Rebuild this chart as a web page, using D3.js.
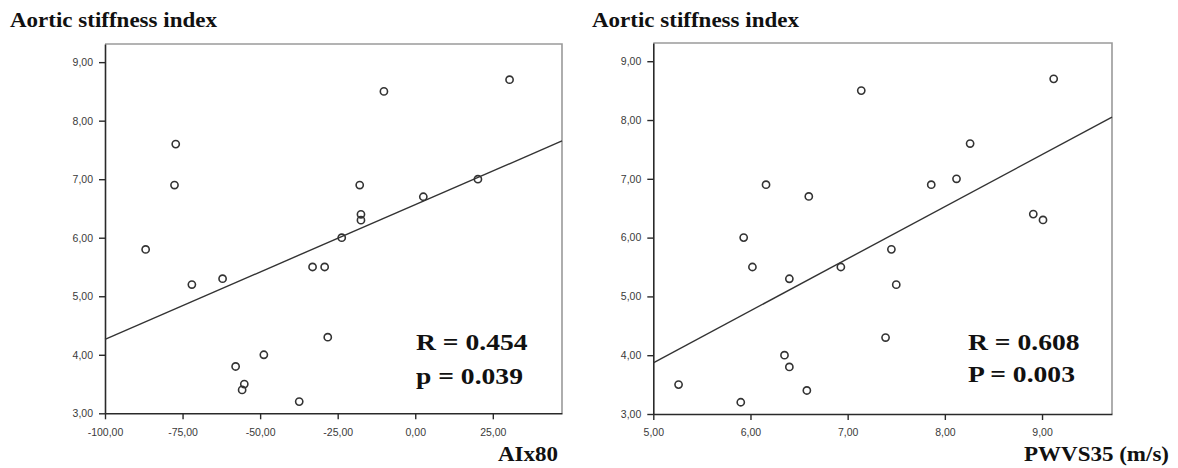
<!DOCTYPE html>
<html>
<head>
<meta charset="utf-8">
<script src="https://cdn.jsdelivr.net/npm/d3@7"></script>
<style>
  html, body { margin: 0; padding: 0; background: #ffffff; }
  svg { display: block; }
  .tick text { font-family: Arial, "Liberation Sans", sans-serif; font-size: 10.5px; fill: #3a3a3a; }
  .serif { font-family: "Liberation Serif", "Times New Roman", serif; font-weight: bold; fill: #111; }
</style>
</head>
<body>
<svg id="chart" width="1178" height="468"></svg>
<script>
// Aortic stiffness index against AIx80 (left) and PWVS35 (right)
const stiffnessA = [8.7, 8.5, 7.6, 6.9, 6.9, 6.7, 7.0, 6.4, 6.3, 6.0, 5.8, 5.2, 5.3, 5.5, 5.5, 4.3, 4.0, 3.8, 3.5, 3.4, 3.2];
const aix80      = [30.4, -10.1, -77.2, -77.6, -17.9, 2.6, 20.2, -17.5, -17.5, -23.7, -86.9, -72.0, -62.1, -33.1, -29.2, -28.2, -48.8, -57.9, -55.1, -55.8, -37.4];

const stiffnessB = [8.7, 8.5, 7.6, 6.9, 6.9, 7.0, 6.7, 6.4, 6.3, 6.0, 5.5, 5.3, 5.5, 5.8, 5.2, 4.3, 4.0, 3.8, 3.5, 3.4, 3.2];
const pwvs35     = [9.12, 7.14, 8.26, 6.16, 7.86, 8.12, 6.60, 8.91, 9.01, 5.93, 6.02, 6.40, 6.93, 7.45, 7.50, 7.39, 6.35, 6.40, 5.26, 6.58, 5.90];

const yTicks      = [3, 4, 5, 6, 7, 8, 9];
const aixTicks    = [-100, -75, -50, -25, 0, 25];
const pwvTicks    = [5, 6, 7, 8, 9];
const yDomain     = [3, 9.31];
const aixDomain   = [-100, 47.3];
const pwvDomain   = [5, 9.72];

const titleText   = "Aortic stiffness index";
const statsA      = ["R = 0.454", "p = 0.039"];
const statsB      = ["R = 0.608", "P = 0.003"];
const xLabelA     = "AIx80";
const xLabelB     = "PWVS35 (m/s)";

const locale = d3.formatLocale({decimal: ",", thousands: ".", grouping: [3], currency: ["", ""], minus: "-"});
const fmt = locale.format(".2f");

const svg = d3.select("#chart");
const STRETCH = 1.15;

function serifText(g, str, x, y, size, anchor) {
  g.append("text")
    .attr("class", "serif")
    .attr("transform", `translate(${x},${y}) scale(${STRETCH},1)`)
    .attr("text-anchor", anchor || "start")
    .style("font-size", size + "px")
    .text(str);
}

function linearFit(xs, ys) {
  const mx = d3.mean(xs), my = d3.mean(ys);
  let sxy = 0, sxx = 0;
  xs.forEach((x, i) => { sxy += (x - mx) * (ys[i] - my); sxx += (x - mx) * (x - mx); });
  const b = sxy / sxx;
  return x => my + b * (x - mx);
}

function panel(cfg) {
  const g = svg.append("g");
  const x = d3.scaleLinear().domain(cfg.xDomain).range([cfg.left, cfg.right]);
  const y = d3.scaleLinear().domain(yDomain).range([cfg.bottom, cfg.top]);

  // frame: light top/right edges
  g.append("path")
    .attr("d", `M${cfg.left},${cfg.top}H${cfg.right}V${cfg.bottom}`)
    .attr("fill", "none").attr("stroke", "#9a9a9a").attr("stroke-width", 1.6);

  const yAxis = g.append("g")
    .attr("transform", `translate(${cfg.left},0)`)
    .call(d3.axisLeft(y).tickValues(yTicks).tickFormat(fmt).tickSize(6).tickSizeOuter(0).tickPadding(6));
  const xAxis = g.append("g")
    .attr("transform", `translate(0,${cfg.bottom})`)
    .call(d3.axisBottom(x).tickValues(cfg.xTicks).tickFormat(fmt).tickSize(6).tickSizeOuter(0).tickPadding(9));
  [yAxis, xAxis].forEach(a => {
    a.select(".domain").attr("stroke", "#2a2a2a").attr("stroke-width", 1.6);
    a.selectAll(".tick line").attr("stroke", "#2a2a2a").attr("stroke-width", 1.4);
  });

  // least-squares line across the plotted range
  const fit = linearFit(cfg.xs, cfg.ys);
  g.append("line")
    .attr("x1", x(cfg.xDomain[0])).attr("y1", y(fit(cfg.xDomain[0])))
    .attr("x2", x(cfg.xDomain[1])).attr("y2", y(fit(cfg.xDomain[1])))
    .attr("stroke", "#333").attr("stroke-width", 1.4);

  g.selectAll("circle.pt")
    .data(cfg.xs.map((v, i) => [v, cfg.ys[i]]))
    .join("circle")
    .attr("class", "pt")
    .attr("cx", d => x(d[0])).attr("cy", d => y(d[1]))
    .attr("r", 3.6)
    .attr("fill", "none").attr("stroke", "#333").attr("stroke-width", 1.6);

  serifText(g, titleText, cfg.titleX, 27, 20);
  serifText(g, cfg.stats[0], cfg.statsX, 350, 24);
  serifText(g, cfg.stats[1], cfg.statsX, cfg.stats2Y, 24);
  serifText(g, cfg.xLabel, cfg.xLabelX, 461, 20, "end");
}

panel({
  xs: aix80, ys: stiffnessA, xDomain: aixDomain, xTicks: aixTicks,
  left: 105, right: 562, top: 44, bottom: 413.3,
  titleX: 10, stats: statsA, statsX: 416, stats2Y: 384,
  xLabel: xLabelA, xLabelX: 558
});

panel({
  xs: pwvs35, ys: stiffnessB, xDomain: pwvDomain, xTicks: pwvTicks,
  left: 653.3, right: 1112, top: 43, bottom: 414,
  titleX: 592, stats: statsB, statsX: 968, stats2Y: 382,
  xLabel: xLabelB, xLabelX: 1169
});
</script>
</body>
</html>
